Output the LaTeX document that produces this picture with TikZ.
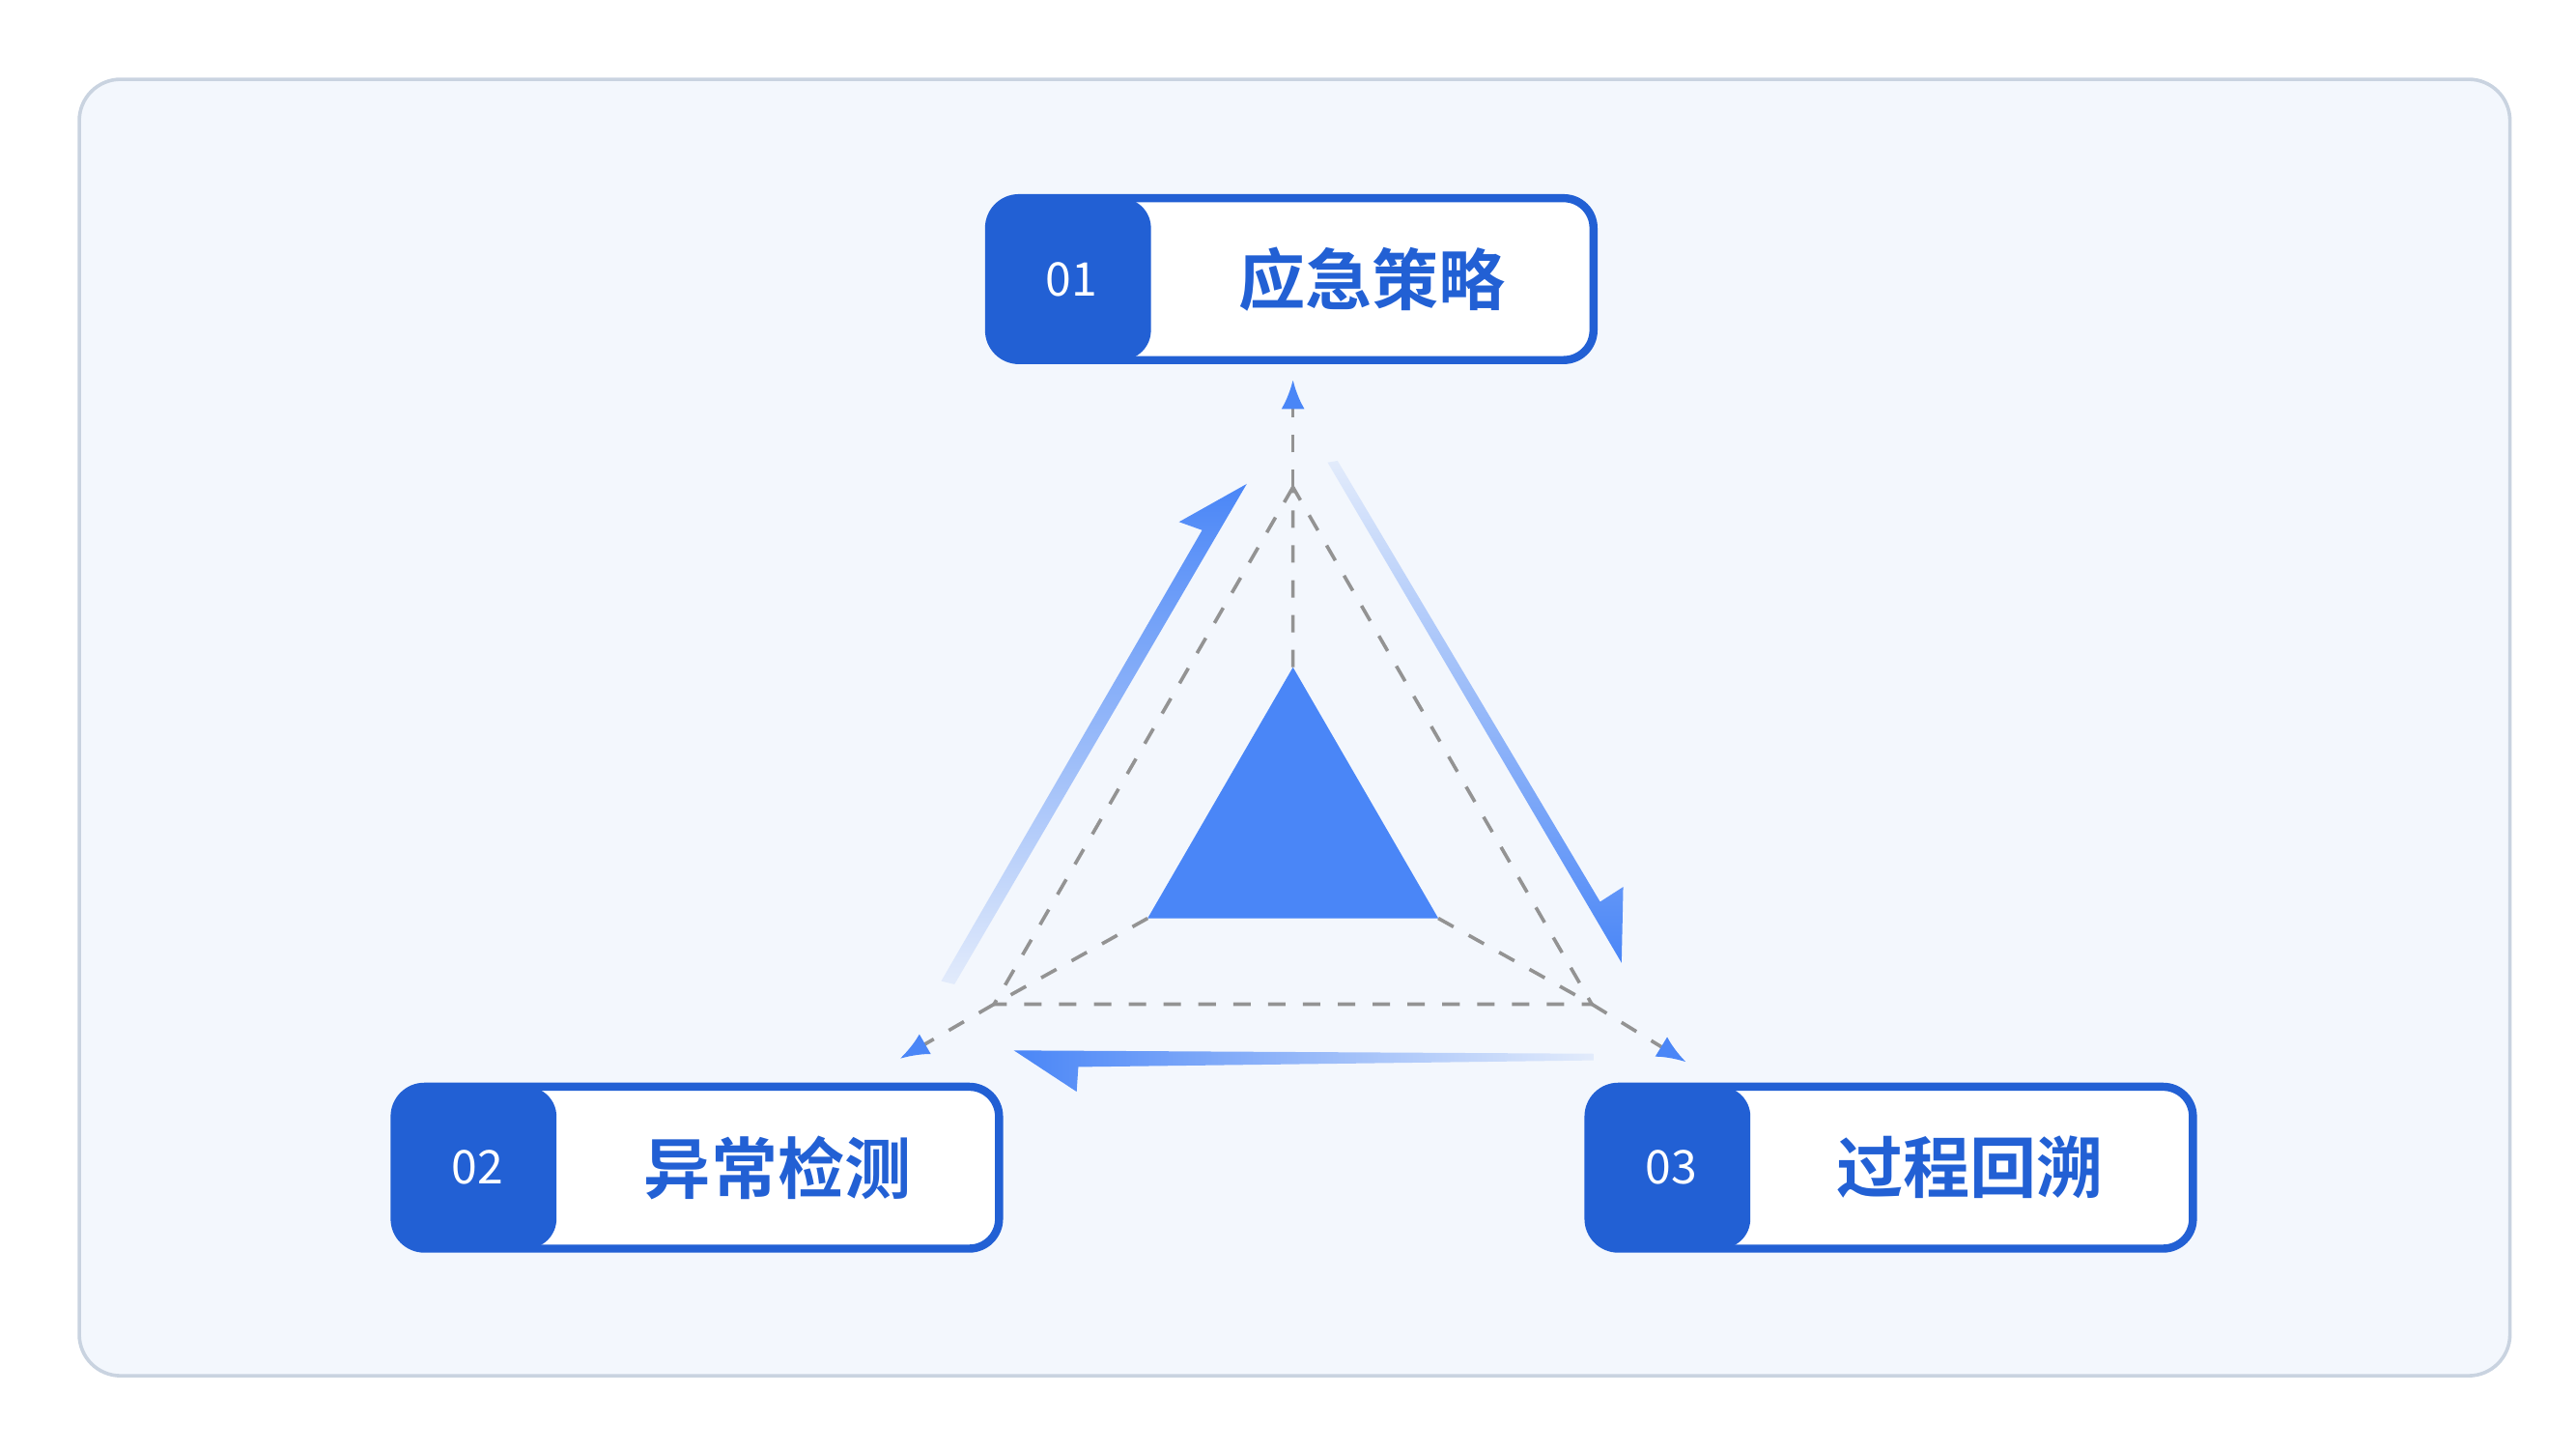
\documentclass[tikz,border=0pt]{standalone}
\usepackage{fontspec}
\newfontfamily\cjk{Noto Sans CJK SC}
\newfontfamily\cjkb{Noto Sans CJK SC Bold}
\usetikzlibrary{arrows.meta}
\definecolor{dblue}{HTML}{2260D4}
\definecolor{mblue}{HTML}{4A86F7}
\definecolor{lblue}{HTML}{E2EBFB}
\definecolor{panel}{HTML}{F3F7FD}
\definecolor{pborder}{HTML}{C9D3E0}
\begin{document}
\begin{tikzpicture}[x=0.01cm,y=-0.01cm,
  card/.style={draw=dblue,line width=1.4pt,fill=white,rounded corners=0.18cm},
  tab/.style={fill=dblue,rounded corners=0.18cm},
  num/.style={text=white,font=\cjk\fontsize{8}{9}\selectfont},
  lab/.style={text=dblue,font=\cjkb\fontsize{11.5}{13}\selectfont},
  dsh/.style={draw=gray!85,dashed,line width=0.6pt},
  dar/.style={dsh,-{Latex[length=5pt,width=4pt,color=mblue]}}]
\useasboundingbox (0,0) rectangle (1560,878);
\draw[fill=panel,draw=pborder,line width=0.6pt,rounded corners=0.25cm] (48,48) rectangle (1520,833);
% cards
\foreach \n/\x/\y/\t in {a/599/120/01,b/239/658/02,c/962/658/03}{
  \draw[card] (\x,\y) rectangle ++(366,98);
  \fill[tab] (\x,\y) rectangle ++(98,98);
  \node[num] (\n num) at (\x+50,\y+49) {\t};
}
\node[lab] (alab) at (831,169) {应急策略};
\node[lab] (blab) at (471,707) {异常检测};
\node[lab] (clab) at (1193,707) {过程回溯};
% gradient arrows
\shade[top color=mblue,bottom color=lblue] (755,293)--(714,316)--(728,321)--(570,594)--(578,596)--cycle;
\shade[top color=lblue,bottom color=mblue] (804,280)--(810,279)--(969,546)--(983,537)--(982,583)--cycle;
\shade[left color=mblue,right color=lblue] (614,636)--(965,638)--(965,642)--(653,646)--(652,661)--cycle;
% central triangle
\fill[mblue] (783,404)--(695,556)--(871,556)--cycle;
\coordinate (ta) at (783,295);
\coordinate (tb) at (602,608);
\coordinate (tc) at (964,608);
\coordinate (ia) at (783,404);
\coordinate (ib) at (695,556);
\coordinate (ic) at (871,556);
\draw[dsh] (ta)--(tb)--(tc)--cycle;
\draw[dsh] (ia)--(ta) (ib)--(tb) (ic)--(tc);
\coordinate (ea) at (783,230);
\coordinate (eb) at (545,641);
\coordinate (ec) at (1021,643);
\draw[dar] (ta)--(ea);
\draw[dar] (tb)--(eb);
\draw[dar] (tc)--(ec);
\end{tikzpicture}
\end{document}
